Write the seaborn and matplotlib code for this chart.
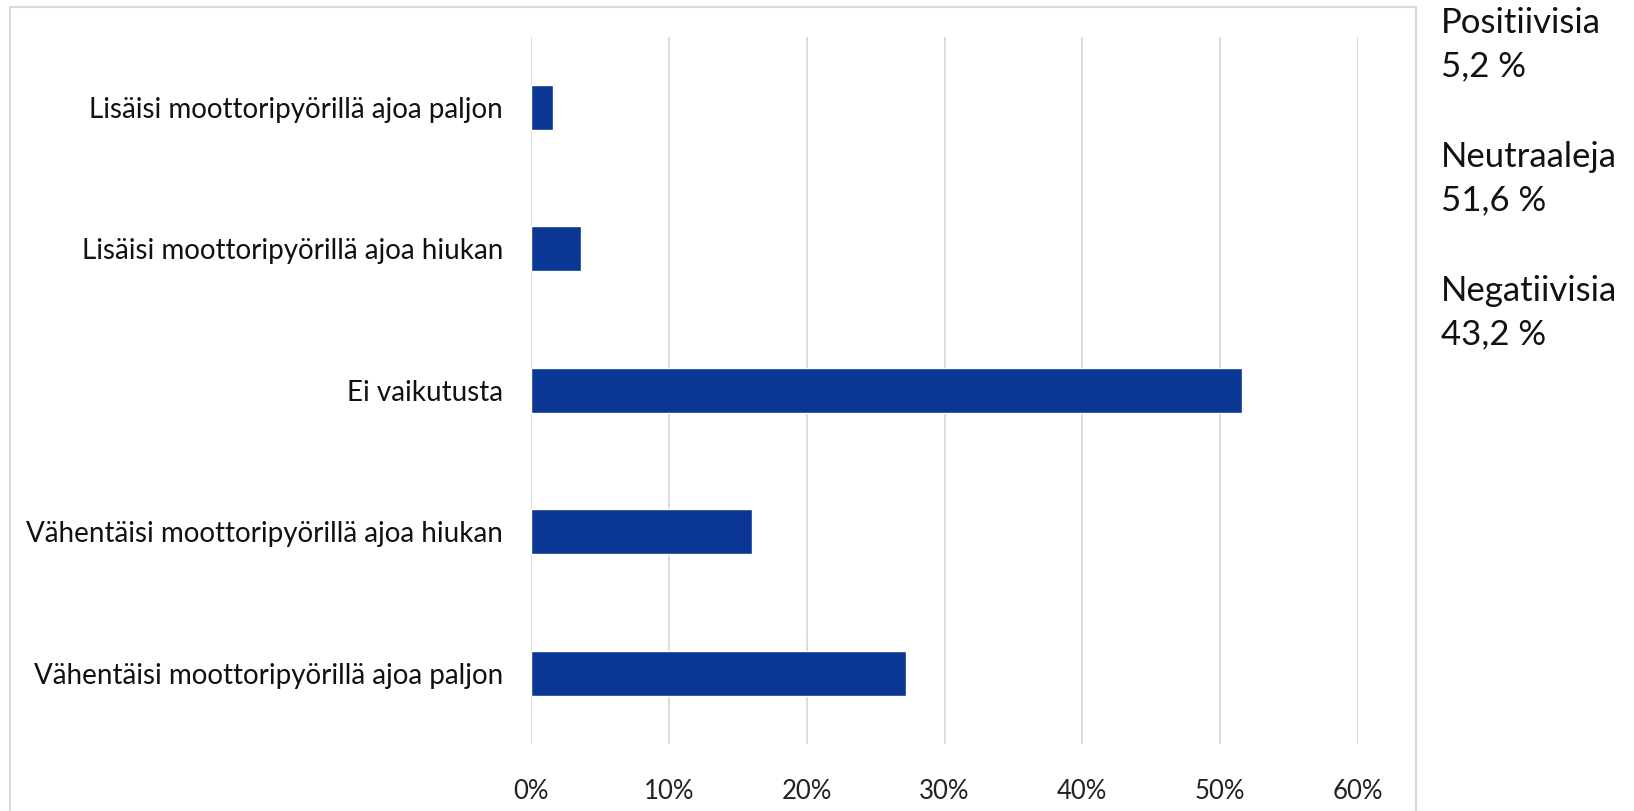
import pandas as pd
import matplotlib.pyplot as plt
import seaborn as sns
from matplotlib.patches import Rectangle
from matplotlib.ticker import FuncFormatter

# data (percent of answers)
categories = ["Lisäisi moottoripyörillä ajoa paljon",
              "Lisäisi moottoripyörillä ajoa hiukan",
              "Ei vaikutusta",
              "Vähentäisi moottoripyörillä ajoa hiukan",
              "Vähentäisi moottoripyörillä ajoa paljon"]
shares = [1.6, 3.6, 51.6, 16.0, 27.2]
x_ticks = [0, 10, 20, 30, 40, 50, 60]

summary_labels = ["Positiivisia", "Neutraaleja", "Negatiivisia"]
summary_values = ["5,2 %", "51,6 %", "43,2 %"]

df = pd.DataFrame({"Vastaus": categories, "Osuus": shares})

sns.set_style("white")
plt.rcParams["font.family"] = ["Lato", "DejaVu Sans"]

fig = plt.figure(figsize=(16.34, 8.11), dpi=100)
ax = fig.add_axes([531 / 1634, 1 - 744 / 811, 827 / 1634, 707.5 / 811])

sns.barplot(data=df, x="Osuus", y="Vastaus", order=categories, orient="h",
            color="#0a3694", saturation=1, width=0.315, ax=ax)

ax.set_xlim(0, 60)
ax.set_ylim(4.5, -0.5)
ax.set_xticks(x_ticks)
ax.xaxis.set_major_formatter(FuncFormatter(lambda v, p: f"{v:.0f}%"))
ax.grid(axis="x", color="#d9d9d9", linewidth=1.3)
ax.set_axisbelow(True)
for s in ax.spines.values():
    s.set_visible(False)
ax.set_xlabel("")
ax.set_ylabel("")
ax.tick_params(axis="x", length=0, pad=25, labelsize=18.5, labelcolor="#222222")
ax.tick_params(axis="y", length=0, pad=20, labelsize=20, labelcolor="#111111")

# chart area border
fig.patches.append(Rectangle((9.5 / 1634, -0.01), 1406 / 1634, 1.01 - 7 / 811,
                             transform=fig.transFigure, fill=False,
                             edgecolor="#d9d9d9", linewidth=1.5))

# summary text to the right of the chart
y_base = [33, 134 + 33, 268 + 33]
for i in range(3):
    fig.text(1441 / 1634, 1 - y_base[i] / 811, summary_labels[i],
             fontsize=25, va="baseline", ha="left", color="#111111")
    fig.text(1441 / 1634, 1 - (y_base[i] + 43) / 811, summary_values[i],
             fontsize=25, va="baseline", ha="left", color="#111111")

plt.savefig("out.png", dpi=100)
